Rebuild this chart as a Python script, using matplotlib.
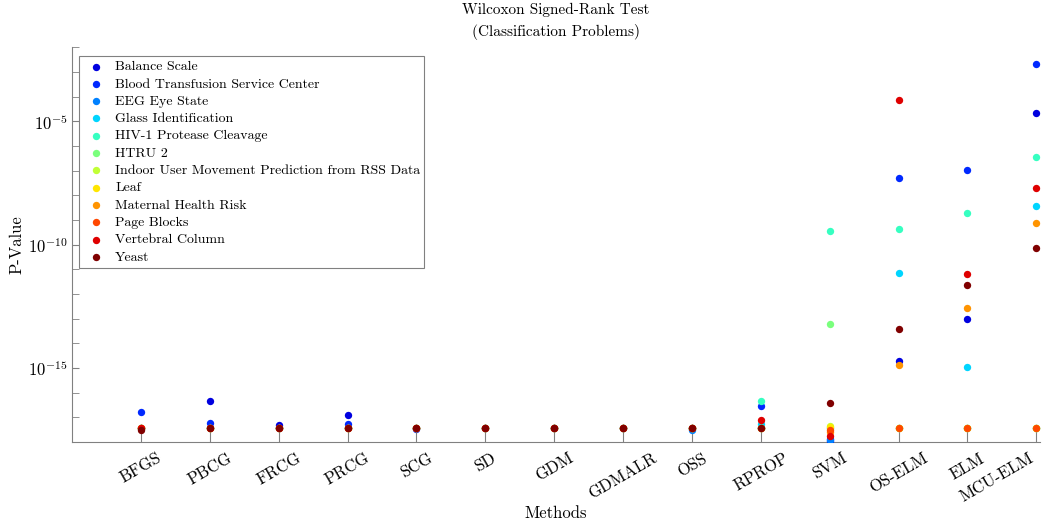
import numpy as np
import matplotlib
matplotlib.use("Agg")
import matplotlib.pyplot as plt
from matplotlib.ticker import FixedLocator, NullFormatter

plt.rcParams['font.family'] = ['cmr10', 'DejaVu Serif']
plt.rcParams['mathtext.fontset'] = 'cm'
plt.rcParams['axes.formatter.use_mathtext'] = True

methods = ['BFGS', 'PBCG', 'FRCG', 'PRCG', 'SCG', 'SD', 'GDM', 'GDMALR',
           'OSS', 'RPROP', 'SVM', 'OS-ELM', 'ELM', 'MCU-ELM']

datasets = ['Balance Scale', 'Blood Transfusion Service Center', 'EEG Eye State',
            'Glass Identification', 'HIV-1 Protease Cleavage', 'HTRU 2',
            'Indoor User Movement Prediction from RSS Data', 'Leaf',
            'Maternal Health Risk', 'Page Blocks', 'Vertebral Column', 'Yeast']

# p-values per dataset, one per method
balance_scale = [3.6e-18, 4.6e-17, 4.7e-18, 1.2e-17, 3.6e-18, 3.6e-18, 3.6e-18,
                 3.6e-18, 3.6e-18, 3.6e-18, 1.1e-18, 1.9e-15, 9.8e-14, 2.2e-05]
blood_transfusion = [1.6e-17, 5.9e-18, 3.6e-18, 5.2e-18, 3.3e-18, 3.6e-18, 3.6e-18,
                     3.6e-18, 3.6e-18, 3.0e-17, 1.3e-18, 5.1e-08, 1.1e-07, 2.0e-03]
eeg_eye_state = [3.6e-18, 3.6e-18, 3.6e-18, 3.6e-18, 3.6e-18, 3.6e-18, 3.6e-18,
                 3.6e-18, 3.2e-18, 3.6e-18, 1.2e-18, 3.6e-18, 3.6e-18, 3.6e-18]
glass = [3.6e-18, 3.6e-18, 3.6e-18, 3.6e-18, 3.6e-18, 3.6e-18, 3.6e-18,
         3.6e-18, 3.6e-18, 5.6e-18, 3.6e-18, 6.9e-12, 1.1e-15, 3.6e-09]
hiv = [3.6e-18, 3.6e-18, 3.6e-18, 3.6e-18, 3.6e-18, 3.6e-18, 3.6e-18,
       3.6e-18, 3.6e-18, 4.7e-17, 3.6e-10, 4.2e-10, 2.0e-09, 3.6e-07]
htru2 = [3.6e-18, 3.6e-18, 3.6e-18, 3.6e-18, 3.6e-18, 3.6e-18, 3.6e-18,
         3.6e-18, 3.6e-18, 3.6e-18, 6.2e-14, 3.6e-18, 3.6e-18, 3.6e-18]
indoor = [3.6e-18, 3.6e-18, 3.6e-18, 3.6e-18, 3.6e-18, 3.6e-18, 3.6e-18,
          3.6e-18, 3.6e-18, 3.6e-18, 4.3e-18, 3.6e-18, 3.6e-18, 3.6e-18]
leaf = [3.6e-18, 3.6e-18, 3.6e-18, 3.6e-18, 3.6e-18, 3.6e-18, 3.6e-18,
        3.6e-18, 3.6e-18, 3.6e-18, 4.0e-18, 3.6e-18, 3.6e-18, 3.6e-18]
maternal = [3.6e-18, 3.6e-18, 3.6e-18, 3.6e-18, 3.6e-18, 3.6e-18, 3.6e-18,
            3.6e-18, 3.6e-18, 3.6e-18, 2.5e-18, 1.3e-15, 2.6e-13, 7.2e-10]
page_blocks = [3.6e-18, 3.6e-18, 3.6e-18, 3.6e-18, 3.6e-18, 3.6e-18, 3.6e-18,
               3.6e-18, 3.6e-18, 3.6e-18, 3.2e-18, 3.6e-18, 3.6e-18, 3.6e-18]
vertebral = [3.8e-18, 3.6e-18, 3.6e-18, 3.6e-18, 3.6e-18, 3.6e-18, 3.6e-18,
             3.6e-18, 3.6e-18, 7.9e-18, 1.7e-18, 7.6e-05, 6.3e-12, 1.9e-08]
yeast = [3.2e-18, 3.6e-18, 3.6e-18, 3.6e-18, 3.6e-18, 3.6e-18, 3.6e-18,
         3.6e-18, 3.6e-18, 3.6e-18, 4.0e-17, 3.7e-14, 2.3e-12, 7.1e-11]

series = [balance_scale, blood_transfusion, eeg_eye_state, glass, hiv, htru2,
          indoor, leaf, maternal, page_blocks, vertebral, yeast]


def main():
    fig = plt.figure(figsize=(10.45, 5.25), dpi=100)
    ax = fig.add_axes([0.069, 0.158, 0.926, 0.752])

    colors = plt.cm.jet(np.linspace(1 / 12, 1, len(datasets)))
    xs = np.arange(1, len(methods) + 1)
    for vals, name, c in zip(series, datasets, colors):
        ax.scatter(xs, vals, s=28, color=c, label=name, zorder=3, linewidths=0)

    ax.set_yscale('log')
    ax.set_ylim(1e-18, 1e-2)
    ax.set_xlim(0, 14.05)
    ax.set_yticks([1e-15, 1e-10, 1e-5])
    ax.yaxis.set_minor_locator(FixedLocator(10.0 ** np.arange(-18, -1)))
    ax.yaxis.set_minor_formatter(NullFormatter())
    ax.set_xticks(xs)
    ax.set_xticklabels(methods, rotation=30, ha='center', fontsize=12)
    # last label would run off the figure, so pull it to the left of its tick
    ax.get_xticklabels()[-1].set_horizontalalignment('right')

    for side in ['top', 'right']:
        ax.spines[side].set_visible(False)
    for side in ['left', 'bottom']:
        ax.spines[side].set_color('#808080')
    ax.tick_params(axis='y', which='both', direction='in', length=5,
                   color='#808080', labelsize=12)
    ax.tick_params(axis='x', direction='in', length=12, color='#808080', pad=6)

    ax.set_title('Wilcoxon Signed-Rank Test\n(Classification Problems)', fontsize=11,
                 linespacing=1.6, pad=8)
    ax.set_xlabel('Methods', fontsize=12, labelpad=1)
    ax.set_ylabel('P-Value', fontsize=12, labelpad=2)

    leg = ax.legend(loc='upper left', bbox_to_anchor=(0.0072, 0.977), fontsize=10,
                    fancybox=False, framealpha=1, edgecolor='#808080',
                    handletextpad=0.5, labelspacing=0.33, borderpad=0.3,
                    borderaxespad=0, handlelength=1.8)
    leg.get_frame().set_linewidth(0.8)

    fig.savefig('out.png', dpi=100)
    plt.close(fig)


if __name__ == '__main__':
    main()
